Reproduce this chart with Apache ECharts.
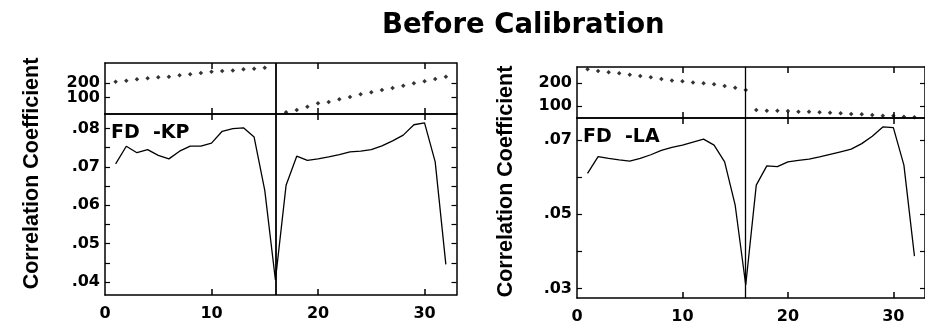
<!DOCTYPE html>
<html>
<head>
<meta charset="utf-8">
<script src="https://cdn.jsdelivr.net/npm/echarts@6/dist/echarts.min.js"></script>
<style>html,body{margin:0;padding:0;background:#fff}#c{width:925px;height:327px}</style>
</head>
<body>
<div id="c"></div>
<script>
// ---- data ----
const titleText = 'Before Calibration';
const yName = 'Correlation Coefficient';
const xLabelValues = [0, 10, 20, 30];
const xTickValues = [10, 20, 30];
const splitLag = 16;

// FD -KP panel
const kpLabel = 'FD  -KP';
const kpDotLag = [1,2,3,4,5,6,7,8,9,10,11,12,13,14,15,17,18,19,20,21,22,23,24,25,26,27,28,29,30,31,32];
const kpDotVal = [208,215,225,232,238,242,252,259,267,276,281,284,292,296,303,2,17,39,62,71,89,105,123,137,152,166,181,198,211,227,242];
const kpLag = [1,2,3,4,5,6,7,8,9,10,11,12,13,14,15,16,17,18,19,20,21,22,23,24,25,26,27,28,29,30,31,32];
const kpCorr = [0.0708,0.0754,0.0737,0.0745,0.0730,0.0721,0.0741,0.0754,0.0754,0.0762,0.0793,0.0800,0.0802,0.0778,0.0639,0.0405,0.0652,0.0728,0.0717,0.0721,0.0726,0.0732,0.0739,0.0741,0.0745,0.0755,0.0768,0.0783,0.0810,0.0815,0.0713,0.0446];
const kpTopLabels = [100, 200];
const kpMainLabels = [0.04, 0.05, 0.06, 0.07, 0.08];
const kpMainTicks = [0.04,0.045,0.05,0.055,0.06,0.065,0.07,0.075,0.08];

// FD -LA panel
const laLabel = 'FD  -LA';
const laDotLag = [1,2,3,4,5,6,7,8,9,10,11,12,13,14,15,16,17,18,19,20,21,22,23,24,25,26,27,28,29,30,31,32];
const laDotVal = [262,254,249,244,238,232,227,219,212,209,204,200,196,188,181,170,82,79,79,78,75,75,72,70,68,65,63,60,57,57,53,50];
const laLag = [1,2,3,4,5,6,7,8,9,10,11,12,13,14,15,16,17,18,19,20,21,22,23,24,25,26,27,28,29,30,31,32];
const laCorr = [0.0610,0.0655,0.0650,0.0646,0.0643,0.0650,0.0660,0.0672,0.0680,0.0686,0.0694,0.0702,0.0686,0.0641,0.0524,0.0309,0.0578,0.0630,0.0628,0.0641,0.0645,0.0648,0.0654,0.0661,0.0668,0.0675,0.0690,0.0710,0.0735,0.0733,0.0632,0.0387];
const laTopLabels = [100, 200];
const laMainLabels = [0.03, 0.05, 0.07];
const laMainTicks = [0.03, 0.04, 0.05, 0.06, 0.07];

// ---- chart ----
const FONT = 'DejaVu Sans';
const lab = {fontFamily: FONT, fontWeight: 'bold', fontSize: 16, lineHeight: 13, color: '#000',
  hideOverlap: false, showMinLabel: true, showMaxLabel: true};
const fmtDec = v => (Math.abs(v - Math.round(v)) < 1e-9 ? String(Math.round(v)) : String(+v.toFixed(3)).replace(/^0\./, '.'));

const grids = [
  {left: 105, top: 63, width: 351.5, height: 51},   // KP top
  {left: 105, top: 114, width: 351.5, height: 181}, // KP main
  {left: 577, top: 67, width: 354, height: 51},     // LA top
  {left: 577, top: 118, width: 354, height: 180}    // LA main
];
const yRanges = [
  {min: -10, max: 335, labels: kpTopLabels, ticks: kpTopLabels},
  {min: 0.0366, max: 0.0838, labels: kpMainLabels, ticks: kpMainTicks},
  {min: 47, max: 272, labels: laTopLabels, ticks: laTopLabels},
  {min: 0.0274, max: 0.0759, labels: laMainLabels, ticks: laMainTicks}
];

const xAxis = [], yAxis = [], extraY = [];
grids.forEach((g, i) => {
  const isMain = i % 2 === 1;
  ['bottom', 'top'].forEach(pos => {
    xAxis.push({
      type: 'value', gridIndex: i, position: pos, min: 0, max: 33,
      axisLine: {show: true, onZero: false, lineStyle: {color: '#000', width: 1.5}},
      axisTick: {show: true, inside: true, length: 6, customValues: xTickValues, lineStyle: {color: '#000', width: 1.5}},
      axisLabel: Object.assign({show: isMain && pos === 'bottom', customValues: xLabelValues, margin: 12}, lab),
      splitLine: {show: false}
    });
  });
  const r = yRanges[i];
  // top panels: labels sit close together, so each label gets its own (invisible) left axis
  const firstLabels = isMain ? r.labels : [r.labels[0]];
  ['left', 'right'].forEach(pos => {
    yAxis.push({
      type: 'value', gridIndex: i, position: pos, min: r.min, max: r.max,
      axisLine: {show: true, onZero: false, lineStyle: {color: '#000', width: 1.5}},
      axisTick: {show: true, inside: true, length: 5, customValues: r.ticks, lineStyle: {color: '#000', width: 1.2}},
      axisLabel: Object.assign({show: pos === 'left', customValues: firstLabels, margin: 5, formatter: fmtDec}, lab),
      splitLine: {show: false}
    });
  });
  if (!isMain) {
    r.labels.slice(1).forEach(v => {
      extraY.push({
        type: 'value', gridIndex: i, position: 'left', min: r.min, max: r.max,
        axisLine: {show: false}, axisTick: {show: false}, splitLine: {show: false},
        axisLabel: Object.assign({show: true, customValues: [v], margin: 5, formatter: fmtDec}, lab)
      });
    });
  }
});
yAxis.push(...extraY);

const vline = w => ({silent: true, symbol: ['none', 'none'], label: {show: false},
  lineStyle: {color: '#000', type: 'solid', width: w}, data: [{xAxis: splitLag}]});
const pairs = (xs, ys) => xs.map((x, k) => [x, ys[k]]);

const series = [
  {type: 'scatter', xAxisIndex: 0, yAxisIndex: 0, data: pairs(kpDotLag, kpDotVal), symbol: 'diamond', symbolSize: 4.5,
   itemStyle: {color: '#000'}, markLine: vline(1.8), silent: true},
  {type: 'line', xAxisIndex: 2, yAxisIndex: 2, data: pairs(kpLag, kpCorr), showSymbol: false, symbol: 'none',
   lineStyle: {color: '#000', width: 1.3}, markLine: vline(1.8), silent: true},
  {type: 'scatter', xAxisIndex: 4, yAxisIndex: 4, data: pairs(laDotLag, laDotVal), symbol: 'diamond', symbolSize: 4.5,
   itemStyle: {color: '#000'}, markLine: vline(1.3), silent: true},
  {type: 'line', xAxisIndex: 6, yAxisIndex: 6, data: pairs(laLag, laCorr), showSymbol: false, symbol: 'none',
   lineStyle: {color: '#000', width: 1.3}, markLine: vline(1.3), silent: true}
];

const chart = echarts.init(document.getElementById('c'), null, {renderer: 'canvas'});
chart.setOption({
  animation: false,
  backgroundColor: '#fff',
  title: {text: titleText, left: 382, top: 12, padding: 0,
    textStyle: {fontFamily: FONT, fontWeight: 'bold', fontSize: 27.5, color: '#000'}},
  grid: grids,
  xAxis: xAxis,
  yAxis: yAxis,
  series: series,
  graphic: [
    {type: 'text', x: 32, y: 173.5, rotation: Math.PI / 2,
     style: {text: yName, fontFamily: 'Liberation Sans', fontWeight: 'bold', fontSize: 21.5, fill: '#000', align: 'center', verticalAlign: 'middle'}},
    {type: 'text', x: 506, y: 181.5, rotation: Math.PI / 2,
     style: {text: yName, fontFamily: 'Liberation Sans', fontWeight: 'bold', fontSize: 21.5, fill: '#000', align: 'center', verticalAlign: 'middle'}},
    {type: 'text', x: 111, y: 132.6,
     style: {text: kpLabel, fontFamily: FONT, fontWeight: 'bold', fontSize: 19, fill: '#000', align: 'left', verticalAlign: 'middle'}},
    {type: 'text', x: 583, y: 136.6,
     style: {text: laLabel, fontFamily: FONT, fontWeight: 'bold', fontSize: 19, fill: '#000', align: 'left', verticalAlign: 'middle'}}
  ]
});
</script>
</body>
</html>
